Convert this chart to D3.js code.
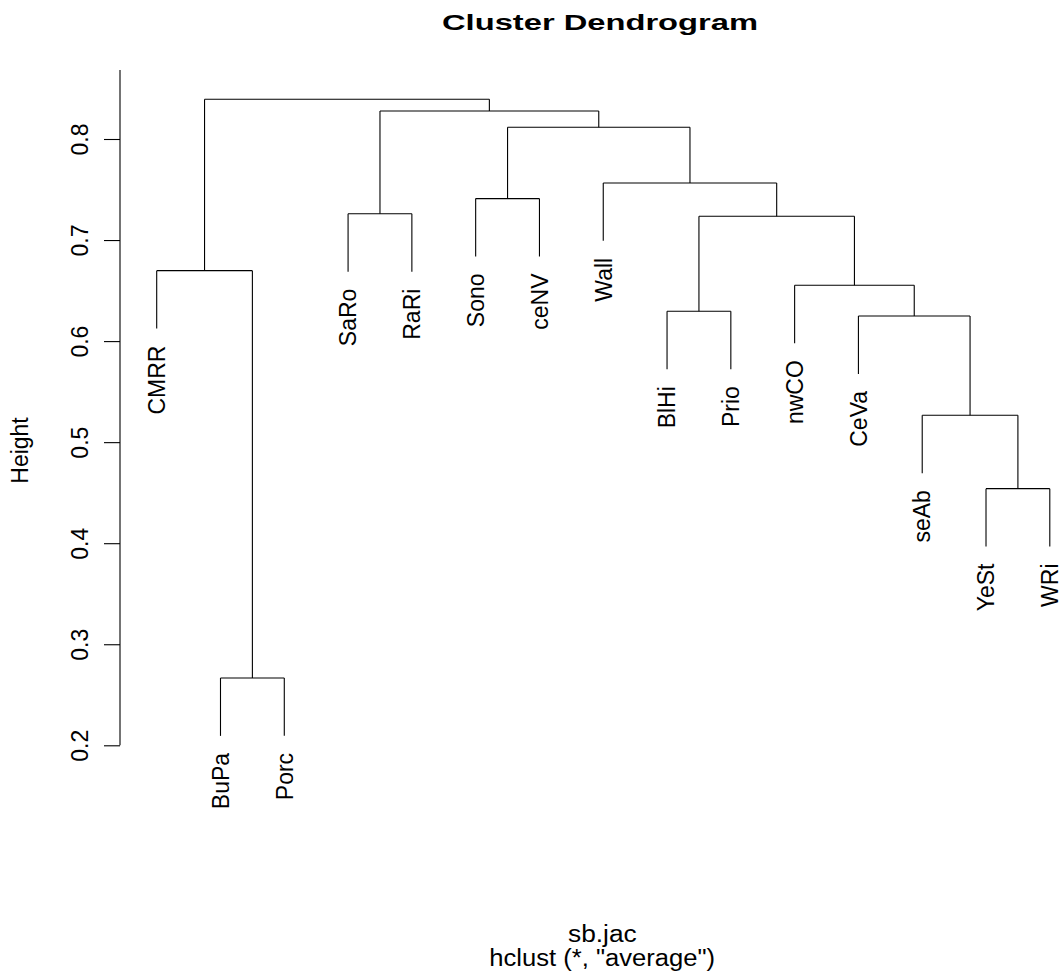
<!DOCTYPE html>
<html>
<head>
<meta charset="utf-8">
<script src="https://cdn.jsdelivr.net/npm/d3@7"></script>
<style>
  html, body { margin: 0; padding: 0; background: #fff; }
  svg { display: block; font-family: "Liberation Sans", Arial, sans-serif; }
</style>
</head>
<body>
<div id="chart"></div>
<script>
'use strict';

// Leaf labels, in the order they appear along the x axis
var leafLabels = ["CMRR", "BuPa", "Porc", "SaRo", "RaRi", "Sono", "ceNV", "Wall",
                  "BlHi", "Prio", "nwCO", "CeVa", "seAb", "YeSt", "WRi"];

// hclust-style merge table: negative = leaf (1-based position in leafLabels),
// positive = earlier merge step (1-based)
var mergeLeft  = [-14, -2, -13, -12, -9, -11, -1, 5, -4, -6, -8, 10, 9, 7];
var mergeRight = [-15, -3,   1,   3, -10,  4,  2, 6, -5, -7,  8, 11, 12, 13];
var mergeHeight = [0.454, 0.2666, 0.5266, 0.6248, 0.6295, 0.6552, 0.6697,
                   0.7235, 0.726, 0.741, 0.7565, 0.8116, 0.8277, 0.8393];

var yTicks = [0.2, 0.3, 0.4, 0.5, 0.6, 0.7, 0.8];

(function() {
    var width = 1060, height = 973;

    var svg = d3.select("#chart").append("svg")
        .attr("width", width)
        .attr("height", height);

    var x = d3.scaleLinear()
        .domain([1, leafLabels.length])
        .range([156.7, 1049.8]);

    var y = d3.scaleLinear()
        .domain([0.2, 0.8])
        .range([745.3, 139]);

    // leaves hang 10% of the height range below their parent merge
    var hang = 0.1 * (d3.max(mergeHeight) - d3.min(mergeHeight));

    // x position of every merge = mean of its two children
    var nodeX = [];
    function childX(c) { return c < 0 ? x(-c) : nodeX[c - 1]; }
    mergeLeft.forEach(function(l, i) {
        nodeX[i] = (childX(l) + childX(mergeRight[i])) / 2;
    });

    // build segments: for each merge, horizontal bar + two verticals down to children
    var segs = [];
    var leafEnds = [];
    mergeLeft.forEach(function(l, i) {
        var h = mergeHeight[i];
        var kids = [l, mergeRight[i]];
        segs.push([childX(kids[0]), h, childX(kids[1]), h]);
        kids.forEach(function(c) {
            var bottom;
            if (c < 0) {
                bottom = h - hang;
                leafEnds.push({ idx: -c, h: bottom });
            } else {
                bottom = mergeHeight[c - 1];
            }
            segs.push([childX(c), h, childX(c), bottom]);
        });
    });

    svg.append("g")
        .selectAll("line")
        .data(segs)
        .enter().append("line")
            .attr("x1", function(d) { return d[0]; })
            .attr("y1", function(d) { return y(d[1]); })
            .attr("x2", function(d) { return d[2]; })
            .attr("y2", function(d) { return y(d[3]); })
            .attr("stroke", "#000")
            .attr("stroke-width", 1.1);

    // leaf labels, rotated, hanging under each leaf
    svg.append("g")
        .selectAll("text")
        .data(leafEnds)
        .enter().append("text")
            .attr("transform", function(d) {
                return "translate(" + x(d.idx) + "," + (y(d.h) + 17) + ") rotate(-90)";
            })
            .attr("text-anchor", "end")
            .attr("dy", "0.36em")
            .attr("font-size", "23px")
            .text(function(d) { return leafLabels[d.idx - 1]; });

    // Y axis
    var yAxis = d3.axisLeft(y)
        .tickValues(yTicks)
        .tickSize(16)
        .tickFormat(d3.format(".1f"));

    var ga = svg.append("g")
        .attr("transform", "translate(120,0)")
        .call(yAxis);
    ga.select(".domain").remove();
    ga.selectAll(".tick line").attr("stroke", "#000").attr("stroke-width", 1.1);
    ga.selectAll(".tick text")
        .attr("x", null)
        .attr("dy", null)
        .attr("transform", "translate(-32,0) rotate(-90)")
        .attr("text-anchor", "middle")
        .attr("fill", "#000")
        .attr("font-size", "23px")
        .attr("font-family", "Liberation Sans, Arial, sans-serif");
    ga.append("line")
        .attr("x1", 0).attr("x2", 0)
        .attr("y1", y(0.2)).attr("y2", 70)
        .attr("stroke", "#000")
        .attr("stroke-width", 1.1);

    // Y label
    svg.append("text")
        .attr("transform", "translate(27.5,450.5) rotate(-90)")
        .attr("text-anchor", "middle")
        .attr("font-size", "23px")
        .text("Height");

    // Title
    svg.append("text")
        .attr("x", 442).attr("y", 30)
        .attr("font-size", "22px")
        .attr("font-weight", "bold")
        .attr("textLength", 316)
        .attr("lengthAdjust", "spacingAndGlyphs")
        .text("Cluster Dendrogram");

    // Sub labels
    svg.append("text")
        .attr("x", 568).attr("y", 941.7)
        .attr("font-size", "23px")
        .attr("textLength", 68.7)
        .attr("lengthAdjust", "spacingAndGlyphs")
        .text("sb.jac");

    svg.append("text")
        .attr("x", 489.3).attr("y", 966)
        .attr("font-size", "23px")
        .attr("textLength", 225.7)
        .attr("lengthAdjust", "spacingAndGlyphs")
        .text('hclust (*, "average")');
})();
</script>
</body>
</html>
